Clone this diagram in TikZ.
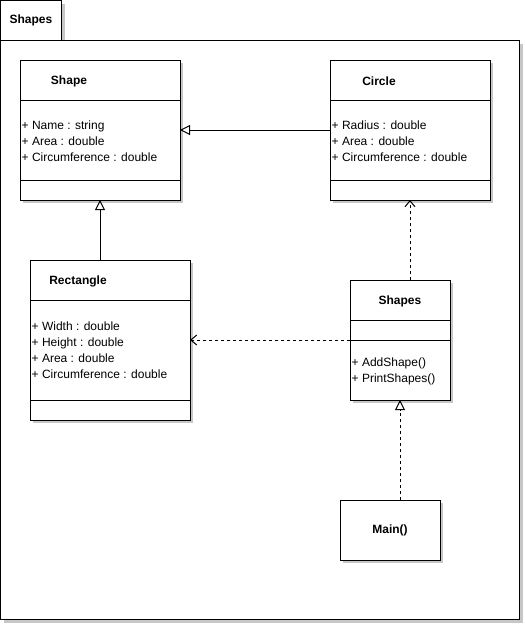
\documentclass[tikz,border=0pt]{standalone}
\usepackage{fontspec}
\setmainfont{Liberation Sans}
\usetikzlibrary{arrows.meta,shadows,positioning}

\tikzset{
  boxshadow/.style={drop shadow={shadow xshift=3pt, shadow yshift=-3pt, fill=black!22, opacity=1}},
  classbox/.style={draw, fill=white, line width=1pt, boxshadow, inner sep=0pt, outer sep=0pt},
  divider/.style={line width=1pt},
  classname/.style={font=\bfseries\fontsize{12}{14}\selectfont, inner sep=0pt},
  members/.style={font=\fontsize{12}{16}\selectfont, align=left, anchor=west, inner sep=0pt},
  inherit/.style={line width=1pt, -{Triangle[open, length=10pt, width=10pt]}},
  depend/.style={line width=1pt, dash pattern=on 3pt off 3pt, -{Straight Barb[length=6pt, width=10pt]}},
  realize/.style={line width=1pt, dash pattern=on 3pt off 3pt, -{Triangle[open, length=10pt, width=10pt]}},
}

\begin{document}
\begin{tikzpicture}[x=1pt, y=-1pt]
    \useasboundingbox (0,0) rectangle (525,625);
    % Package frame
    \node[classbox, minimum width=61pt, minimum height=40pt, anchor=north west,
          font=\bfseries\fontsize{12}{14}\selectfont] (tab) at (0.5,0.5) {Shapes};
    \node[classbox, minimum width=519pt, minimum height=579pt, anchor=north west] (pkg) at (0.5,40.5) {};
    % Shape class
    \node[classbox, minimum width=160pt, minimum height=140pt] (shape) at (100,130) {};
    \draw[divider] ([yshift=-40pt]shape.north west) -- ([yshift=-40pt]shape.north east);
    \draw[divider] ([yshift=20pt]shape.south west) -- ([yshift=20pt]shape.south east);
    \node[classname] (shape-name) at (69,81) {Shape};
    \node[members] (shape-attr) at (21.5,141) {+ Name : string\\+ Area : double\\+ Circumference : double};
    % Circle class
    \node[classbox, minimum width=160pt, minimum height=140pt] (circ) at (410,130) {};
    \draw[divider] ([yshift=-40pt]circ.north west) -- ([yshift=-40pt]circ.north east);
    \draw[divider] ([yshift=20pt]circ.south west) -- ([yshift=20pt]circ.south east);
    \node[classname] (circ-name) at (379,81) {Circle};
    \node[members] (circ-attr) at (331.5,141) {+ Radius : double\\+ Area : double\\+ Circumference : double};
    % Rectangle class
    \node[classbox, minimum width=160pt, minimum height=160pt] (rect) at (110,340) {};
    \draw[divider] ([yshift=-40pt]rect.north west) -- ([yshift=-40pt]rect.north east);
    \draw[divider] ([yshift=20pt]rect.south west) -- ([yshift=20pt]rect.south east);
    \node[classname] (rect-name) at (78,281) {Rectangle};
    \node[members] (rect-attr) at (31.5,350) {+ Width : double\\+ Height : double\\+ Area : double\\+ Circumference : double};
    % Shapes class
    \node[classbox, minimum width=100pt, minimum height=120pt] (shapes) at (400,340) {};
    \draw[divider] ([yshift=-40pt]shapes.north west) -- ([yshift=-40pt]shapes.north east);
    \draw[divider] ([yshift=-60pt]shapes.north west) -- ([yshift=-60pt]shapes.north east);
    \node[classname] (shapes-name) at (400,301) {Shapes};
    \node[members] (shapes-ops) at (351.5,371) {+ AddShape()\\+ PrintShapes()};
    % Main
    \node[classbox, minimum width=100pt, minimum height=60pt, classname] (main) at (390,530) {Main()};
    % Relations
    \draw[inherit] (circ.west) -- (shape.east);
    \draw[inherit] (shape.south |- rect.north) -- (shape.south);
    \draw[depend] (circ.south |- shapes.north) -- (circ.south);
    \draw[depend] (shapes.west) -- (rect.east);
    \draw[realize] (shapes.south |- main.north) -- (shapes.south);
\end{tikzpicture}
\end{document}
